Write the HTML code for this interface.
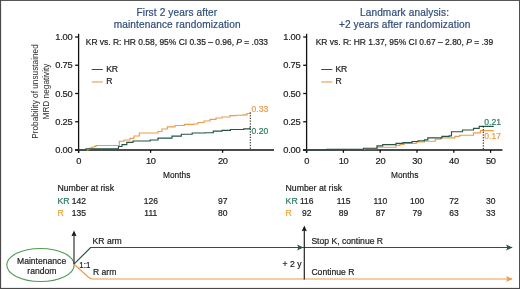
<!DOCTYPE html>
<html><head><meta charset="utf-8"><style>
html,body{margin:0;padding:0;background:#fff;}
svg{display:block;font-family:"Liberation Sans",sans-serif;will-change:transform;}
text{stroke-width:0.2px;}
</style></head><body>
<svg width="520" height="289" viewBox="0 0 520 289">
<rect x="0" y="0" width="520" height="289" fill="#fff"/>
<rect x="0" y="0" width="520" height="1" fill="#555"/>
<rect x="0" y="0" width="1.1" height="289" fill="#4a4a4a"/>
<rect x="519" y="0" width="1" height="289" fill="#505050"/>
<rect x="0" y="287.9" width="520" height="1.1" fill="#4a4a4a"/>
<g font-size="10.1" fill="#2f4d7c" letter-spacing="0.12" text-anchor="middle" stroke="#2f4d7c">
<text x="176.9" y="16">First 2 years after</text>
<text x="177.2" y="28.3">maintenance randomization</text>
<text x="404.5" y="16">Landmark analysis:</text>
<text x="404.7" y="28.3">+2 years after randomization</text>
</g>
<text x="85.8" y="45.3" font-size="8.45" fill="#222" stroke="#222">KR vs. R: HR 0.58, 95% CI 0.35 – 0.96, <tspan font-style="italic">P</tspan> = .033</text>
<text x="315.7" y="45.3" font-size="8.45" fill="#222" stroke="#222">KR vs. R: HR 1.37, 95% CI 0.67 – 2.80, <tspan font-style="italic">P</tspan> = .39</text>
<line x1="91.7" y1="69.5" x2="102.8" y2="69.5" stroke="#265446" stroke-width="1.05"/>
<line x1="91.7" y1="82" x2="102.8" y2="82" stroke="#ea9c48" stroke-width="1.1"/>
<text x="106.3" y="71.9" font-size="8.6" letter-spacing="-0.3" fill="#222" stroke="#222">KR</text>
<text x="106.3" y="84.1" font-size="8.6" fill="#222" stroke="#222">R</text>
<line x1="321.2" y1="69.5" x2="332.3" y2="69.5" stroke="#265446" stroke-width="1.05"/>
<line x1="321.2" y1="82" x2="332.3" y2="82" stroke="#ea9c48" stroke-width="1.1"/>
<text x="335.5" y="71.9" font-size="8.6" letter-spacing="-0.3" fill="#222" stroke="#222">KR</text>
<text x="335.5" y="84.1" font-size="8.6" fill="#222" stroke="#222">R</text>
<g font-size="8.7" fill="#2a2a2a" stroke="none" text-anchor="middle">
<text transform="translate(37.5,91.5) rotate(-90) scale(0.95,1)" x="0" y="0">Probability of unsustained</text>
<text transform="translate(49.4,91.5) rotate(-90) scale(0.95,1)" x="0" y="0">MRD negativity</text>
</g>
<g stroke="#111" stroke-width="1.3" fill="none"><line x1="78.6" y1="33.8" x2="78.6" y2="152.8"/><line x1="75.0" y1="150" x2="274.0" y2="150"/><line x1="75.2" y1="37.00" x2="78.6" y2="37.00"/><line x1="75.2" y1="65.25" x2="78.6" y2="65.25"/><line x1="75.2" y1="93.50" x2="78.6" y2="93.50"/><line x1="75.2" y1="121.75" x2="78.6" y2="121.75"/><line x1="75.2" y1="150.00" x2="78.6" y2="150.00"/><line x1="78.6" y1="150" x2="78.6" y2="152.8"/><line x1="150.6" y1="150" x2="150.6" y2="152.8"/><line x1="222.6" y1="150" x2="222.6" y2="152.8"/></g><path d="M85.8 150.0 H88.0 V149.0 H90.0 V148.0 H92.0 V147.0 H94.5 V146.3 H96.0 V145.5 H117.0 V145.5 H119.3 V141.2 H124.0 V140.0 H130.0 V138.4 H134.0 V136.0 H139.3 V133.0 H158.0 V131.5 H162.0 V129.0 H167.3 V126.8 H175.0 V125.5 H184.4 V124.4 H193.8 V124.0 H198.0 V122.5 H204.0 V121.0 H210.0 V119.4 H216.0 V118.0 H222.0 V117.0 H230.0 V115.6 H236.0 V115.2 H243.0 V114.8 H247.0 V113.5 H250.0 V112.4" stroke="#ea9c48" stroke-width="1.15" fill="none"/><path d="M78.0 150.0 H85.2 V150.0 H86.0 V148.7 H117.5 V148.7 H118.5 V146.5 H122.0 V144.6 H126.8 V142.3 H133.0 V141.0 H150.2 V140.0 H158.0 V138.1 H172.0 V136.1 H181.3 V134.2 H192.2 V133.0 H205.0 V132.7 H213.3 V131.1 H222.0 V130.3 H230.4 V129.5 H243.7 V128.8 H249.9 V127.2" stroke="#265446" stroke-width="1.15" fill="none"/><line x1="250.3" y1="112.4" x2="250.3" y2="150" stroke="#111" stroke-width="1" stroke-dasharray="1.3,1.4"/><g font-size="9.3" letter-spacing="-0.25" fill="#222" text-anchor="end" stroke="#222"><text x="72.4" y="40.10">1.00</text><text x="72.4" y="68.35">0.75</text><text x="72.4" y="96.60">0.50</text><text x="72.4" y="124.85">0.25</text><text x="72.4" y="153.10">0.00</text></g><g font-size="9.3" letter-spacing="-0.25" fill="#222" text-anchor="middle" stroke="#222"><text x="78.8" y="163.9">0</text><text x="150.8" y="163.9">10</text><text x="222.8" y="163.9">20</text></g><text x="251.5" y="112.0" font-size="8.6" fill="#ea9c48" stroke="#ea9c48">0.33</text><text x="251.5" y="133.7" font-size="8.6" fill="#2a7a62" stroke="#2a7a62">0.20</text>
<g stroke="#111" stroke-width="1.3" fill="none"><line x1="306.6" y1="33.8" x2="306.6" y2="152.8"/><line x1="303.0" y1="150" x2="502.4" y2="150"/><line x1="303.2" y1="37.00" x2="306.6" y2="37.00"/><line x1="303.2" y1="65.25" x2="306.6" y2="65.25"/><line x1="303.2" y1="93.50" x2="306.6" y2="93.50"/><line x1="303.2" y1="121.75" x2="306.6" y2="121.75"/><line x1="303.2" y1="150.00" x2="306.6" y2="150.00"/><line x1="306.6" y1="150" x2="306.6" y2="152.8"/><line x1="343.4" y1="150" x2="343.4" y2="152.8"/><line x1="380.2" y1="150" x2="380.2" y2="152.8"/><line x1="417.0" y1="150" x2="417.0" y2="152.8"/><line x1="453.8" y1="150" x2="453.8" y2="152.8"/><line x1="490.6" y1="150" x2="490.6" y2="152.8"/></g><path d="M340.0 149.5 H364.5 V148.7 H377.0 V147.2 H396.0 V145.3 H400.0 V144.3 H404.2 V143.3 H416.3 V141.9 H424.4 V141.2 H435.2 V139.2 H440.6 V137.9 H455.0 V136.3 H459.6 V135.2 H473.5 V132.9 H480.4 V130.6 H493.7 V130.6" stroke="#ea9c48" stroke-width="1.15" fill="none"/><path d="M306.0 150.0 H327.0 V149.3 H363.6 V148.2 H377.0 V145.9 H382.7 V144.6 H396.0 V143.3 H402.9 V142.6 H412.0 V141.5 H418.0 V140.7 H424.4 V139.9 H427.8 V137.9 H441.9 V136.3 H449.2 V135.8 H451.5 V131.7 H462.5 V130.0 H473.5 V128.3 H479.2 V126.3 H493.7 V126.3" stroke="#265446" stroke-width="1.15" fill="none"/><line x1="483.3" y1="126.3" x2="483.3" y2="150" stroke="#111" stroke-width="1" stroke-dasharray="1.3,1.4"/><g font-size="9.3" letter-spacing="-0.25" fill="#222" text-anchor="end" stroke="#222"><text x="300.4" y="40.10">1.00</text><text x="300.4" y="68.35">0.75</text><text x="300.4" y="96.60">0.50</text><text x="300.4" y="124.85">0.25</text><text x="300.4" y="153.10">0.00</text></g><g font-size="9.3" letter-spacing="-0.25" fill="#222" text-anchor="middle" stroke="#222"><text x="306.8" y="163.9">0</text><text x="343.6" y="163.9">10</text><text x="380.4" y="163.9">20</text><text x="417.2" y="163.9">30</text><text x="454.0" y="163.9">40</text><text x="490.8" y="163.9">50</text></g><text x="484.3" y="125.0" font-size="8.6" fill="#2a7a62" stroke="#2a7a62">0.21</text><text x="484.3" y="139.2" font-size="8.6" fill="#ea9c48" stroke="#ea9c48">0.17</text>
<text transform="translate(176.7,178) scale(0.845,1)" font-size="9.9" fill="#222" stroke="#222" stroke-width="0.25" text-anchor="middle">Months</text>
<text transform="translate(404.7,178) scale(0.845,1)" font-size="9.9" fill="#222" stroke="#222" stroke-width="0.25" text-anchor="middle">Months</text>
<text x="57.5" y="191.4" font-size="8.7" fill="#222" stroke="#222">Number at risk</text>
<text x="57.5" y="203.9" font-size="8.7" fill="#2a7a62" stroke="#2a7a62">KR</text>
<text x="57.5" y="216.4" font-size="8.7" fill="#eda535" stroke="#eda535">R</text>
<g font-size="8.5" fill="#222" text-anchor="middle" stroke="#222">
<text x="78.8" y="203.9">142</text><text x="78.8" y="216.4">135</text>
<text x="150.8" y="203.9">126</text><text x="150.8" y="216.4">111</text>
<text x="222.8" y="203.9">97</text><text x="222.8" y="216.4">80</text>
</g>
<text x="285.6" y="191.4" font-size="8.7" fill="#222" stroke="#222">Number at risk</text>
<text x="285.6" y="203.9" font-size="8.7" fill="#2a7a62" stroke="#2a7a62">KR</text>
<text x="285.6" y="216.4" font-size="8.7" fill="#eda535" stroke="#eda535">R</text>
<g font-size="8.5" fill="#222" text-anchor="middle" stroke="#222">
<text x="306.8" y="203.9">116</text><text x="306.8" y="216.4">92</text>
<text x="343.6" y="203.9">115</text><text x="343.6" y="216.4">89</text>
<text x="380.4" y="203.9">110</text><text x="380.4" y="216.4">87</text>
<text x="417.2" y="203.9">100</text><text x="417.2" y="216.4">79</text>
<text x="454.0" y="203.9">72</text><text x="454.0" y="216.4">63</text>
<text x="490.8" y="203.9">30</text><text x="490.8" y="216.4">33</text>
</g>
<ellipse cx="40.5" cy="265" rx="33.7" ry="16.5" fill="none" stroke="#559955" stroke-width="1.1"/>
<g font-size="8.6" fill="#222" text-anchor="middle" stroke="#222"><text x="41.6" y="263.5">Maintenance</text><text x="41.9" y="273.5">random</text></g>
<polyline points="74,264.2 90.6,247.5 512,247.5" fill="none" stroke="#265446" stroke-width="1.2"/>
<polyline points="74,264.2 88.5,277.2 90.5,278.6 92.5,279 512,279" fill="none" stroke="#ea9c48" stroke-width="1.2"/>
<path d="M512.8 247.5 L506 244.6 L507.5 247.5 L506 250.4 Z" fill="#265446"/>
<path d="M512.8 279 L506 276.1 L507.5 279 L506 281.9 Z" fill="#ea9c48"/>
<path d="M303.5 247.5 L297 244.6 L298.5 247.5 L297 250.4 Z" fill="#265446"/>
<line x1="74.0" y1="264.2" x2="74.0" y2="235" stroke="#333" stroke-width="1.2"/>
<path d="M74.0 230.5 L71.4 236.2 L74.0 235.4 L76.6 236.2 Z" fill="#1a1a1a"/>
<line x1="304.3" y1="279.4" x2="304.3" y2="230" stroke="#222" stroke-width="1.2"/>
<path d="M304.3 225.5 L301.7 231.2 L304.3 230.4 L306.9 231.2 Z" fill="#1a1a1a"/>
<g font-size="8.6" fill="#222" stroke="#222">
<text x="92.6" y="243.8">KR arm</text>
<text x="93" y="274.9">R arm</text>
<text transform="translate(79.3,267.8) scale(0.88,1)" font-size="9">1:1</text>
<text x="282.6" y="266.7">+ 2 y</text>
<text x="311.4" y="243.8">Stop K, continue R</text>
<text x="311.4" y="274.9">Continue R</text>
</g>
</svg>
</body></html>
